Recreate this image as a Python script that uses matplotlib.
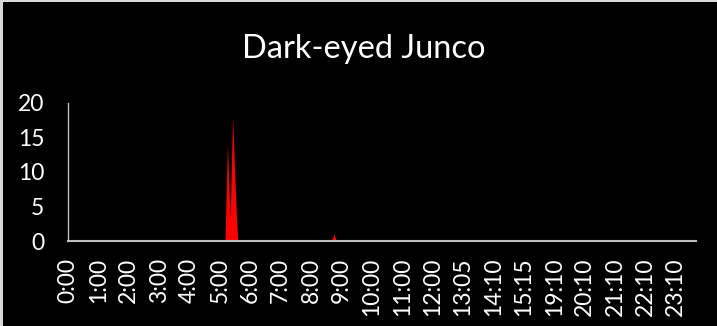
import matplotlib
matplotlib.use("Agg")
import matplotlib.pyplot as plt
from matplotlib.patches import Rectangle

title = "Dark-eyed Junco"
# recording periods (5 minute steps), gaps where nothing was logged
segments = [("0:00", "12:25"), ("12:35", "13:05"), ("13:15", "14:10"),
            ("14:20", "15:15"), ("15:20", "16:10"), ("19:10", "23:50")]
# non-zero counts, everything else is 0
counts = {"5:15": 14, "5:20": 3, "5:25": 18, "5:30": 8, "8:45": 1}
yticks = [0, 5, 10, 15, 20]
label_step = 12


def to_min(s):
    h, m = s.split(":")
    return int(h) * 60 + int(m)


times = []
for a, b in segments:
    for t in range(to_min(a), to_min(b) + 1, 5):
        times.append(f"{t // 60}:{t % 60:02d}")
values = [counts.get(t, 0) for t in times]
x = list(range(len(times)))

W, H = 717, 326
fig = plt.figure(figsize=(W / 100, H / 100), dpi=100)
fig.patch.set_facecolor("#d9d9d9")
fig.patches.append(Rectangle((3 / W, 0), 1, 1 - 2 / H, transform=fig.transFigure,
                             facecolor="black", edgecolor="none", zorder=-1))

font = "Lato"
ax = fig.add_axes([68 / W, (H - 241) / H, (696 - 68) / W, (241 - 103) / H])
ax.set_facecolor("black")
ax.fill_between(x, values, 0, color="#ff0000", lw=0)

ax.set_xlim(0, len(times) - 1)
ax.set_ylim(0, 20)
ax.set_yticks(yticks)
ax.set_yticklabels([str(v) for v in yticks], fontsize=16.5, family=font, color="white")
ax.set_xticks(x[::label_step])
ax.set_xticklabels(times[::label_step], rotation=90, fontsize=16.5, family=font,
                   color="white", va="top", ha="center")
ax.tick_params(axis="both", length=0)
ax.tick_params(axis="y", pad=17)
ax.tick_params(axis="x", pad=12)

for s in ["top", "right"]:
    ax.spines[s].set_visible(False)
ax.spines["left"].set_color("#bfbfbf")
ax.spines["left"].set_linewidth(1.0)
ax.spines["bottom"].set_color("#bfbfbf")
ax.spines["bottom"].set_linewidth(1.5)

fig.text(364 / W, 1 - 58 / H, title, ha="center", va="baseline",
         fontsize=23.5, family=font, color="white")

fig.savefig("out.png", dpi=100, facecolor=fig.get_facecolor())
